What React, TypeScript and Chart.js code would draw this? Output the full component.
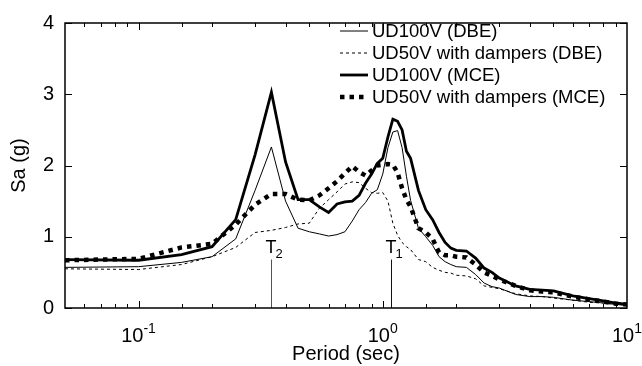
import React, { useEffect, useRef } from 'react';
import { Chart, registerables } from 'chart.js';
Chart.register(...registerables);

const FONT = 'Liberation Sans, Arial, Helvetica, sans-serif';

const periods = [0.05, 0.1, 0.15, 0.2, 0.25, 0.3, 0.35, 0.4, 0.45, 0.5, 0.55, 0.6, 0.65, 0.7, 0.75, 0.8, 0.85, 0.9, 0.95, 1.0, 1.05, 1.1, 1.15, 1.2, 1.25, 1.3, 1.4, 1.5, 1.6, 1.7, 1.8, 1.9, 2.0, 2.2, 2.4, 2.6, 2.8, 3.0, 3.5, 4.0, 4.5, 5.0, 6.0, 7.0, 8.0, 9.0, 10.0];

const ud100vDBE = [0.57, 0.58, 0.64, 0.72, 0.97, 1.65, 2.26, 1.50, 1.12, 1.07, 1.04, 1.01, 1.03, 1.07, 1.22, 1.38, 1.48, 1.61, 1.66, 1.88, 2.25, 2.47, 2.49, 2.25, 1.85, 1.51, 1.12, 1.00, 0.88, 0.72, 0.65, 0.61, 0.58, 0.57, 0.47, 0.35, 0.30, 0.28, 0.19, 0.16, 0.16, 0.15, 0.11, 0.09, 0.07, 0.05, 0.04];
const ud50vDBE = [0.55, 0.54, 0.61, 0.72, 0.85, 1.06, 1.09, 1.13, 1.18, 1.19, 1.40, 1.52, 1.63, 1.74, 1.77, 1.76, 1.68, 1.62, 1.61, 1.62, 1.50, 1.19, 1.02, 0.92, 0.86, 0.82, 0.68, 0.65, 0.57, 0.53, 0.50, 0.49, 0.46, 0.45, 0.41, 0.31, 0.29, 0.27, 0.20, 0.17, 0.16, 0.14, 0.11, 0.08, 0.07, 0.05, 0.04];
const ud100vMCE = [0.68, 0.67, 0.75, 0.86, 1.24, 2.15, 3.03, 2.05, 1.52, 1.52, 1.42, 1.34, 1.46, 1.49, 1.50, 1.58, 1.75, 1.88, 2.03, 2.10, 2.40, 2.65, 2.62, 2.50, 2.20, 2.10, 1.65, 1.38, 1.24, 1.06, 0.92, 0.84, 0.81, 0.80, 0.70, 0.56, 0.50, 0.42, 0.31, 0.26, 0.25, 0.24, 0.17, 0.13, 0.10, 0.07, 0.05];
const ud50vMCE = [0.67, 0.69, 0.85, 0.90, 1.17, 1.45, 1.60, 1.60, 1.52, 1.51, 1.58, 1.68, 1.78, 1.89, 1.99, 1.91, 1.86, 1.93, 2.00, 2.01, 2.02, 2.01, 1.90, 1.68, 1.52, 1.42, 1.12, 1.06, 0.97, 0.78, 0.74, 0.74, 0.72, 0.71, 0.61, 0.50, 0.45, 0.40, 0.31, 0.25, 0.23, 0.22, 0.16, 0.12, 0.09, 0.06, 0.05];

const seriesLabels = ['UD100V (DBE)', 'UD50V with dampers (DBE)', 'UD100V (MCE)', 'UD50V with dampers (MCE)'];
const seriesWidths = [1, 1, 2.8, 4.5];
const seriesDashes: number[][] = [[], [3, 3], [], [4.5, 5]];

const xTickValues = [0.1, 1, 10];
const xTickExps = ['-1', '0', '1'];
const yTickValues = [0, 1, 2, 3, 4];

const tPeriods = [0.348, 1.08];
const tSubs = ['2', '1'];
const tColors = ['#555', '#111'];
const tLineTop = 0.68;

const framePlugin = {
  id: 'framePlugin',
  beforeDatasetsDraw(chart: any) {
    const ctx = chart.ctx;
    const x = chart.scales.x;
    const y = chart.scales.y;
    ctx.save();
    tPeriods.forEach((p, i) => {
      const px = Math.round(x.getPixelForValue(p)) + 0.5;
      ctx.strokeStyle = tColors[i];
      ctx.lineWidth = 1;
      ctx.beginPath();
      ctx.moveTo(px, y.getPixelForValue(0));
      ctx.lineTo(px, y.getPixelForValue(tLineTop));
      ctx.stroke();
      ctx.fillStyle = '#000';
      ctx.textBaseline = 'alphabetic';
      ctx.textAlign = 'left';
      ctx.font = `18px ${FONT}`;
      const ty = y.getPixelForValue(tLineTop) - 7;
      ctx.fillText('T', px - 6, ty);
      const tw = ctx.measureText('T').width;
      ctx.font = `13px ${FONT}`;
      ctx.fillText(tSubs[i], px - 6 + tw - 1, ty + 5);
    });
    ctx.restore();
  },
  afterDraw(chart: any) {
    const ctx = chart.ctx;
    const area = chart.chartArea;
    const x = chart.scales.x;
    const y = chart.scales.y;
    ctx.save();
    ctx.strokeStyle = '#000';
    ctx.lineWidth = 1;
    x.ticks.forEach((t: any) => {
      const v = t.value;
      const lg = Math.log10(v);
      const major = Math.abs(lg - Math.round(lg)) < 1e-6;
      const len = major ? 7 : 4;
      const px = Math.round(x.getPixelForValue(v)) + 0.5;
      if (px <= area.left + 1 || px >= area.right - 1) return;
      ctx.beginPath();
      ctx.moveTo(px, area.bottom);
      ctx.lineTo(px, area.bottom - len);
      ctx.moveTo(px, area.top);
      ctx.lineTo(px, area.top + len);
      ctx.stroke();
    });
    yTickValues.forEach((v) => {
      const py = Math.round(y.getPixelForValue(v)) + 0.5;
      ctx.beginPath();
      ctx.moveTo(area.left, py);
      ctx.lineTo(area.left + 7, py);
      ctx.moveTo(area.right, py);
      ctx.lineTo(area.right - 7, py);
      ctx.stroke();
    });
    ctx.lineWidth = 1.5;
    ctx.strokeRect(area.left, area.top, area.right - area.left, area.bottom - area.top);
    ctx.fillStyle = '#000';
    ctx.textBaseline = 'alphabetic';
    ctx.textAlign = 'left';
    xTickValues.forEach((v, i) => {
      const px = x.getPixelForValue(v);
      ctx.font = `20px ${FONT}`;
      const wb = ctx.measureText('10').width;
      ctx.font = `14px ${FONT}`;
      const we = ctx.measureText(xTickExps[i]).width;
      const start = px - (wb + we) / 2;
      ctx.font = `20px ${FONT}`;
      ctx.fillText('10', start, area.bottom + 34);
      ctx.font = `14px ${FONT}`;
      ctx.fillText(xTickExps[i], start + wb, area.bottom + 25);
    });
    const lx0 = 340;
    const lx1 = 368;
    seriesLabels.forEach((lab, i) => {
      const ly = 31 + i * 22;
      ctx.save();
      ctx.lineWidth = seriesWidths[i];
      ctx.setLineDash(seriesDashes[i]);
      ctx.beginPath();
      ctx.moveTo(lx0, ly);
      ctx.lineTo(lx1, ly);
      ctx.stroke();
      ctx.restore();
      ctx.font = `18.5px ${FONT}`;
      ctx.textBaseline = 'middle';
      ctx.fillText(lab, lx1 + 4, ly + 1);
    });
    ctx.restore();
  },
};

export default function App() {
  const ref = useRef<HTMLCanvasElement | null>(null);
  useEffect(() => {
    if (!ref.current) return;
    const seriesValues = [ud100vDBE, ud50vDBE, ud100vMCE, ud50vMCE];
    const chart = new Chart(ref.current, {
      type: 'line',
      data: {
        datasets: seriesValues.map((vals, i) => ({
          label: seriesLabels[i],
          data: periods.map((p, j) => ({ x: p, y: vals[j] })),
          borderColor: '#000',
          backgroundColor: '#000',
          borderWidth: seriesWidths[i],
          borderDash: seriesDashes[i],
          borderCapStyle: 'butt',
          borderJoinStyle: 'miter',
          pointRadius: 0,
          tension: 0,
          fill: false,
        })),
      },
      options: {
        responsive: false,
        animation: false,
        layout: { padding: { left: 7, top: 13, right: 15, bottom: 0 } },
        plugins: { legend: { display: false }, tooltip: { enabled: false } },
        scales: {
          x: {
            type: 'logarithmic',
            min: 0.05,
            max: 10,
            grid: { display: false, drawTicks: false },
            border: { display: false },
            ticks: { display: false, autoSkip: false },
            title: { display: true, text: 'Period (sec)', color: '#000', font: { family: FONT, size: 20 }, padding: { top: 0, bottom: 0 } },
            afterFit: (s: any) => { s.height = 58; },
          },
          y: {
            type: 'linear',
            min: 0,
            max: 4,
            grid: { display: false, drawTicks: false },
            border: { display: false },
            ticks: { stepSize: 1, color: '#000', font: { family: FONT, size: 20 }, padding: 11 },
            title: { display: true, text: 'Sa (g)', color: '#000', font: { family: FONT, size: 20 }, padding: { top: 0, bottom: 0 } },
            afterFit: (s: any) => { s.width = 58; },
          },
        },
      } as any,
      plugins: [framePlugin],
    });
    return () => chart.destroy();
  }, []);
  return (
    <div style={{ position: 'fixed', left: 0, top: 0, width: 642, height: 366, background: '#fff' }}>
      <canvas ref={ref} width={642} height={366} style={{ width: 642, height: 366, display: 'block' }} />
    </div>
  );
}
